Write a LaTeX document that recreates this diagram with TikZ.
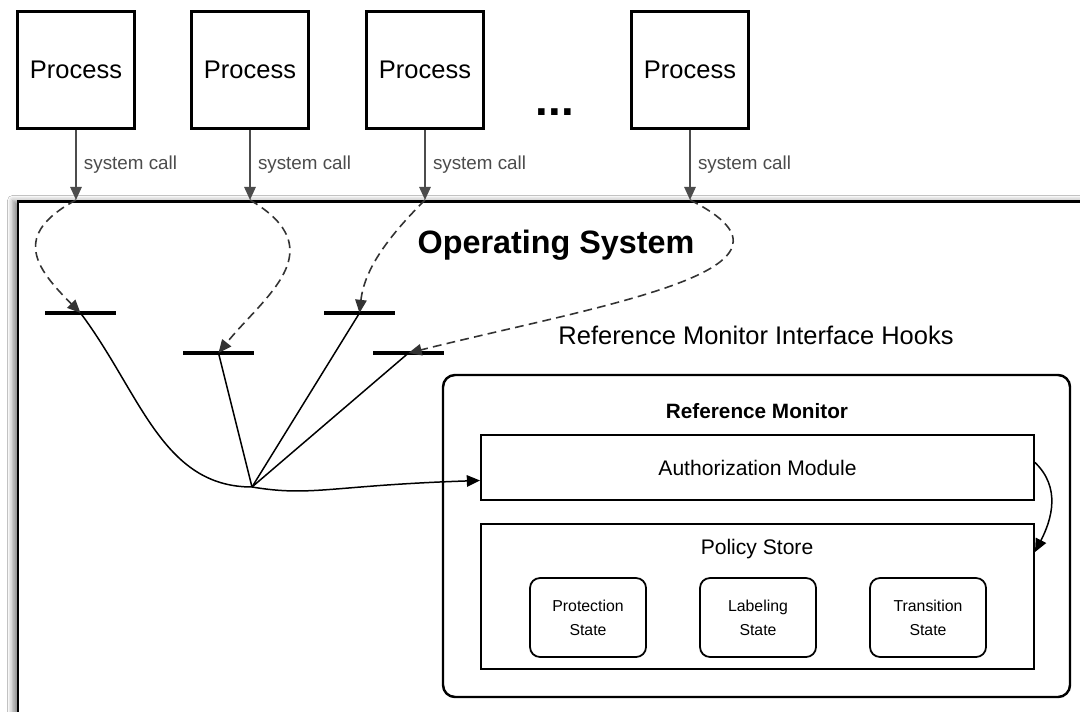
\documentclass[tikz,border=0pt]{standalone}
\usepackage{fontspec}
\setmainfont{Liberation Sans}
\usetikzlibrary{arrows.meta,shadows.blur}
\begin{document}
\begin{tikzpicture}[>={Triangle[length=7.5pt,width=6.5pt]},
proc/.style={draw,line width=1.6pt,minimum width=23.4mm,minimum height=23.4mm,inner sep=0pt,font=\fontsize{14.5pt}{17pt}\selectfont},
call/.style={->,line width=1.1pt,black!70},
calltext/.style={right,inner sep=4pt,font=\fontsize{10.7pt}{13pt}\selectfont},
hook/.style={minimum width=14mm,minimum height=0pt,inner sep=0pt},
hookbar/.style={line width=2pt},
route/.style={->,line width=0.9pt,black!80,dash pattern=on 5pt off 3pt},
link/.style={line width=0.85pt},
box/.style={draw,line width=1.1pt,minimum width=110.6mm,inner sep=0pt,font=\fontsize{12pt}{14pt}\selectfont},
state/.style={draw,line width=1pt,rounded corners=2mm,minimum width=23.2mm,minimum height=15.8mm,align=center,inner sep=0pt,font=\fontsize{9pt}{13.5pt}\selectfont}]
\fill[white] (0,0) rectangle (21.6,-14.24);
\clip (0,0) rectangle (21.6,-14.24);
\node[draw,fill=white,line width=1.7pt,minimum width=21.88cm,minimum height=10.94cm,blur shadow={shadow xshift=-3pt,shadow yshift=0.5pt,shadow blur radius=3pt,shadow opacity=45}] (os) at (11.30,-9.50) {};
\node[font=\fontsize{18.4pt}{22pt}\selectfont\bfseries] (ostitle) at (11.12,-4.90) {Operating System};
\node[font=\fontsize{14.5pt}{17pt}\selectfont] (hooktitle) at (15.12,-6.70) {Reference Monitor Interface Hooks};
\node[proc] (p1) at (1.52,-1.40) {Process};
\node[proc] (p2) at (5.00,-1.40) {Process};
\node[proc] (p3) at (8.50,-1.40) {Process};
\node[proc] (p4) at (13.80,-1.40) {Process};
\node[anchor=base,font=\fontsize{26pt}{30pt}\selectfont\bfseries] (more) at (11.10,-2.32) {...};
\foreach \i in {1,...,4} {
\coordinate (s\i) at (p\i.south |- os.north);
\draw[call] (p\i) -- node[calltext] {system call} (s\i);
}
\node[hook] (h1) at (1.61,-6.26) {};
\node[hook] (h2) at (4.37,-7.06) {};
\node[hook] (h3) at (7.19,-6.26) {};
\node[hook] (h4) at (8.17,-7.06) {};
\foreach \h in {h1,h2,h3,h4} \draw[hookbar] (\h.west) -- (\h.east);
\draw[route] (s1) .. controls +(-1.30,-0.70) and +(-0.90,0.90) .. (h1.center);
\draw[route] (s2) .. controls +(1.70,-1.00) and +(0.90,1.12) .. (h2.center);
\draw[route] (s3) .. controls +(-0.70,-0.70) and +(0.10,0.90) .. (h3.center);
\draw[route] (s4) .. controls +(2.80,-1.40) and +(3.84,0.96) .. (h4.center);
\node[draw,line width=1.4pt,rounded corners=2.4mm,minimum width=12.54cm,minimum height=6.44cm] (rm) at (15.13,-10.72) {};
\node[font=\fontsize{11.8pt}{14pt}\selectfont\bfseries] (rmtitle) at (15.14,-8.22) {Reference Monitor};
\node[box,minimum height=13mm] (auth) at (15.15,-9.35) {Authorization Module};
\node[box,minimum height=29mm] (pol) at (15.15,-11.93) {};
\node[font=\fontsize{12pt}{14pt}\selectfont] (poltitle) at (15.14,-10.98) {Policy Store};
\node[state] (ps) at (11.76,-12.35) {Protection\\State};
\node[state] (ls) at (15.16,-12.35) {Labeling\\State};
\node[state] (ts) at (18.56,-12.35) {Transition\\State};
\coordinate (j) at (5.04,-9.74);
\draw[link] (h1.center) .. controls +(1.20,-1.60) and +(-1.80,0) .. (j);
\draw[link] (h2.center) -- (j);
\draw[link] (h3.center) -- (j);
\draw[link] (h4.center) -- (j);
\draw[link,->] (j) .. controls +(1.20,-0.20) and +(-3.00,-0.10) .. ([yshift=-2.6mm]auth.west);
\draw[link,->] ([yshift=1mm]auth.east) .. controls +(0.52,-0.50) and +(0.34,0.66) .. ([yshift=-5.8mm]pol.north east);
\end{tikzpicture}
\end{document}
